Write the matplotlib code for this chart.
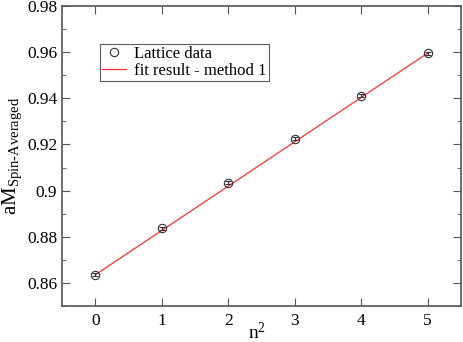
import numpy as np
import matplotlib
matplotlib.use('Agg')
import matplotlib.pyplot as plt
from matplotlib.lines import Line2D

plt.rcParams['font.family'] = ['Liberation Serif', 'DejaVu Serif']
plt.rcParams['mathtext.fontset'] = 'custom'
plt.rcParams['mathtext.rm'] = 'Liberation Serif'
plt.rcParams['mathtext.it'] = 'Liberation Serif:italic'

n2 = np.array([0, 1, 2, 3, 4, 5])
mass = np.array([0.8635, 0.8837, 0.9035, 0.9225, 0.9412, 0.9595])
mass_err = np.array([0.0006, 0.0006, 0.0006, 0.0006, 0.0006, 0.0007])
fit_x = np.array([0, 5])
fit_y = np.array([0.8635, 0.9596])

fig = plt.figure(figsize=(4.63, 3.42), dpi=100)
ax = fig.add_axes([62/463, 36/342, 399/463, 300/342])

ax.plot(fit_x, fit_y, color='#ff3030', lw=0.9)
ax.errorbar(n2, mass, yerr=mass_err, fmt='o', mfc='none', mec='#333333',
            ecolor='#333333', ms=6, mew=0.8, elinewidth=0.8, capsize=2)

ax.set_xlim(-0.5, 5.5)
ax.set_ylim(0.85, 0.98)
ax.set_xticks([0, 1, 2, 3, 4, 5])
ax.set_yticks([0.86, 0.88, 0.9, 0.92, 0.94, 0.96, 0.98])
ax.set_yticklabels(['0.86', '0.88', '0.9', '0.92', '0.94', '0.96', '0.98'])
ax.set_yticks(np.arange(0.85, 0.98, 0.01), minor=True)
ax.tick_params(which='both', direction='in', top=True, right=True, labelsize=12.5)
ax.tick_params(which='major', length=6, color='#555555')
ax.tick_params(which='minor', length=3, color='#555555')
ax.tick_params(axis='x', which='minor', bottom=False, top=False)
ax.tick_params(axis='x', pad=5)
for s in ax.spines.values():
    s.set_color('#555555')
    s.set_linewidth(1.2)

ax.set_xlabel(r'n$^2$', fontsize=14, va='baseline')
ax.xaxis.set_label_coords(0.49, -0.11)
ax.set_ylabel(r'aM$_{\mathrm{Spin\text{-}Averaged}}$', fontsize=15, labelpad=2)

handles = [Line2D([], [], ls='none', marker='o', mfc='none', mec='#333333', ms=6, mew=0.8),
           Line2D([], [], color='#ff3030', lw=0.9)]
labels = ['Lattice data', 'fit result - method 1']
leg = ax.legend(handles, labels, loc='upper left', bbox_to_anchor=(0.095, 0.875),
                fontsize=12, frameon=True, fancybox=False, borderpad=0.15,
                handlelength=1.4, handletextpad=0.5, labelspacing=0.05,
                borderaxespad=0)
leg.get_frame().set_edgecolor('#333333')
leg.get_frame().set_linewidth(0.8)

fig.savefig('out.png', dpi=100)
